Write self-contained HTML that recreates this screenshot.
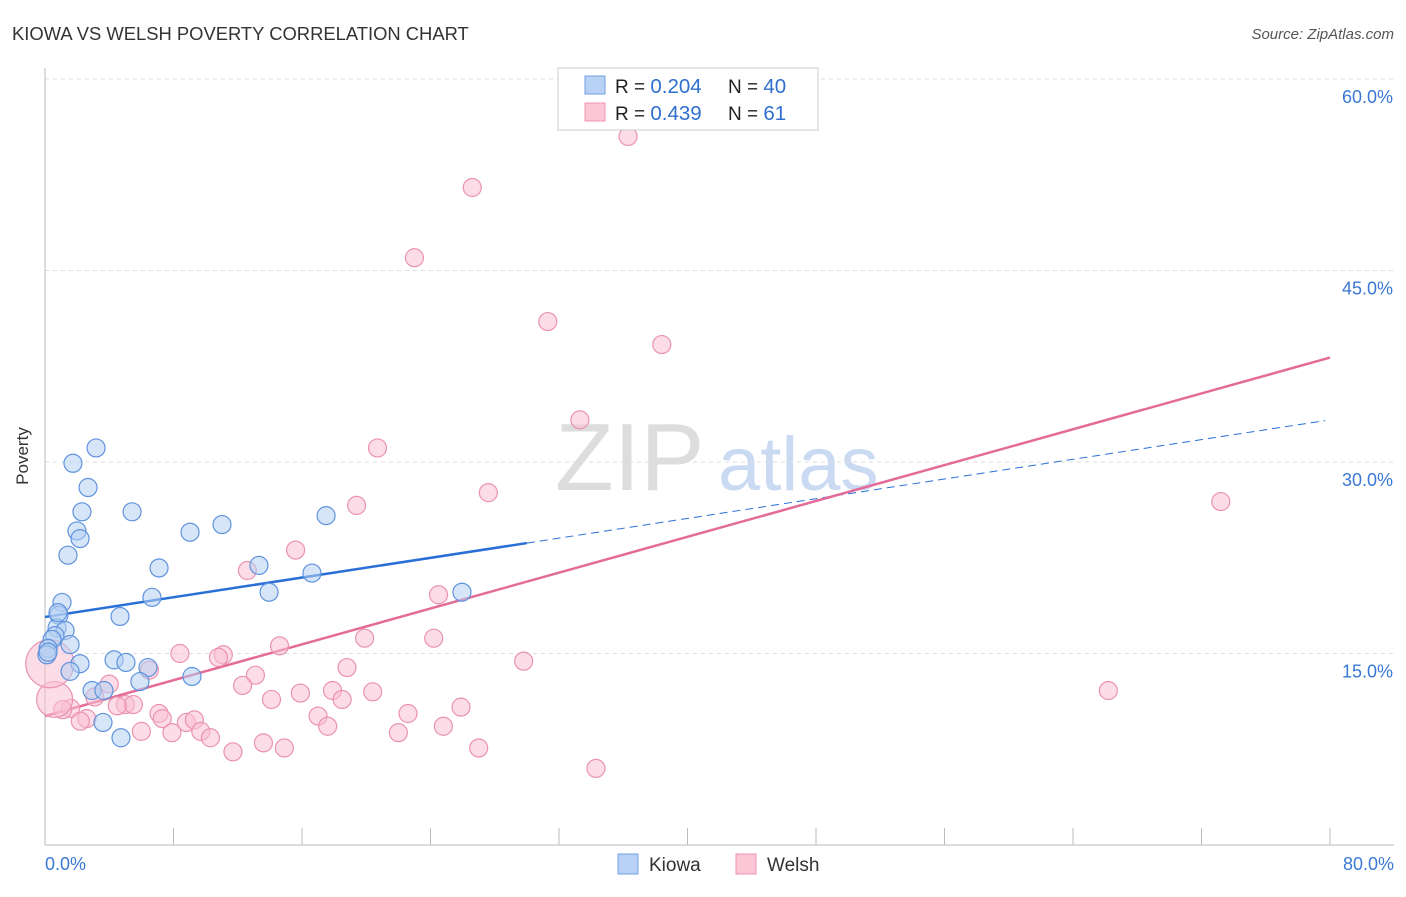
<!DOCTYPE html>
<html><head><meta charset="utf-8"><style>
body{margin:0;background:#fff;font-family:"Liberation Sans",sans-serif;}
svg text{font-family:"Liberation Sans",sans-serif;}
</style></head><body>
<svg id="chart" width="1406" height="892" xmlns="http://www.w3.org/2000/svg">
<text x="12" y="40" font-size="18.4" fill="#333">KIOWA VS WELSH POVERTY CORRELATION CHART</text>
<text x="1394" y="39" font-size="15" fill="#555" font-style="italic" text-anchor="end">Source: ZipAtlas.com</text>
<g><text x="555" y="490" font-size="96" fill="#ddd" font-family="Liberation Serif,serif">ZIP</text><text x="718" y="490" font-size="76" fill="#c9daf2">atlas</text></g>
<g id="grid"></g>
<g id="axes"></g>
<g id="trends"></g>
<g id="points"></g>
<text x="28" y="456" font-size="17" fill="#333" text-anchor="middle" transform="rotate(-90 28 456)">Poverty</text>
<g>
<rect x="558" y="68" width="260" height="62" fill="#fff" stroke="#ccc"/>
<rect x="585" y="76" width="20" height="18" fill="#b8d2f5" stroke="#6f9fe0"/>
<rect x="585" y="103" width="20" height="18" fill="#fcc6d6" stroke="#ec94b0"/>
<text x="615" y="93" font-size="19" fill="#222">R = <tspan fill="#2f6fd0" font-size="20.5">0.204</tspan></text>
<text x="728" y="93" font-size="19" fill="#222">N = <tspan fill="#2f6fd0" font-size="20.5">40</tspan></text>
<text x="615" y="120" font-size="19" fill="#222">R = <tspan fill="#2f6fd0" font-size="20.5">0.439</tspan></text>
<text x="728" y="120" font-size="19" fill="#222">N = <tspan fill="#2f6fd0" font-size="20.5"> 61</tspan></text>
</g>
<g>
<rect x="618" y="854" width="20" height="20" fill="#b8d2f5" stroke="#6f9fe0"/>
<text x="649" y="871" font-size="19" fill="#333">Kiowa</text>
<rect x="736" y="854" width="20" height="20" fill="#fcc6d6" stroke="#ec94b0"/>
<text x="767" y="871" font-size="19" fill="#333">Welsh</text>
</g>
</svg>
<script>
const yTicks=[15,30,45,60];
const yTickLabels=["15.0%","30.0%","45.0%","60.0%"];
const xTickLabels=["0.0%","80.0%"];
const kiowaX=[3.18,1.74,2.68,2.30,5.42,1.99,2.18,9.03,11.02,1.43,13.32,16.62,7.10,17.50,6.66,13.95,25.96,1.06,0.87,4.67,0.75,1.25,0.62,0.44,1.56,0.19,0.12,2.18,4.30,5.04,6.41,1.56,9.15,5.91,2.93,3.67,3.61,4.73,0.81,0.19];
const kiowaY=[31.1,29.9,28.0,26.1,26.1,24.6,24.0,24.5,25.1,22.7,21.9,21.3,21.7,25.8,19.4,19.8,19.8,19.0,18.0,17.9,17.0,16.8,16.4,16.1,15.7,15.4,14.9,14.2,14.5,14.3,13.9,13.6,13.2,12.8,12.1,12.1,9.6,8.4,18.2,15.1];
const welshX=[36.3,26.6,23.0,31.3,38.4,33.3,20.7,27.6,19.4,73.2,15.6,12.6,24.5,24.2,19.9,14.6,11.1,10.8,8.4,18.8,13.1,29.8,66.2,6.5,12.3,14.1,15.9,17.9,20.4,18.5,4.0,3.1,7.1,7.3,8.8,9.3,5.0,5.5,4.5,1.6,1.1,2.6,2.2,6.0,7.9,9.7,10.3,11.7,13.6,14.9,17.0,17.6,22.6,22.0,24.8,25.9,27.0,34.3,0.6,0.3];
const welshY=[55.5,51.5,46.0,41.0,39.2,33.3,31.1,27.6,26.6,26.9,23.1,21.5,19.6,16.2,16.2,15.6,14.9,14.7,15.0,13.9,13.3,14.4,12.1,13.7,12.5,11.4,11.9,12.1,12.0,11.4,12.6,11.6,10.3,9.9,9.6,9.8,11.0,11.0,10.9,10.7,10.6,9.9,9.7,8.9,8.8,8.9,8.4,7.3,8.0,7.6,10.1,9.3,10.3,8.8,9.3,10.8,7.6,6.0,11.4,14.2];
const welshBig=[0,0,0,0,0,0,0,0,0,0,0,0,0,0,0,0,0,0,0,0,0,0,0,0,0,0,0,0,0,0,0,0,0,0,0,0,0,0,0,0,0,0,0,0,0,0,0,0,0,0,0,0,0,0,0,0,0,0,1,1];
const kiowaTrend=[17.86,0.193];
const welshTrend=[10.1,0.351];
const X0=45,X1=1330,Y0=845,Y60=79;
const sx=v=>X0+(v/80)*(X1-X0);
const sy=v=>Y0-(v/60)*(Y0-Y60);
const NS="http://www.w3.org/2000/svg";
function mk(tag,attrs,parent){const e=document.createElementNS(NS,tag);for(const k in attrs)e.setAttribute(k,attrs[k]);document.getElementById(parent).appendChild(e);return e;}
yTicks.forEach((t,i)=>{
 const g=mk('line',{x1:45,x2:1394,y1:sy(t),y2:sy(t),stroke:'#ddd','stroke-dasharray':'4,4'},'grid');
 
 
 const tx=mk('text',{x:1393,y:sy(t)+24,'font-size':18,fill:'#3a78d4','text-anchor':'end'},'grid');
 tx.textContent=yTickLabels[i];
 
 
});
const ya=mk('line',{x1:45,x2:45,y1:68,y2:845,stroke:'#bbb'},'axes');


const xa=mk('line',{x1:45,x2:1394,y1:845,y2:845,stroke:'#bbb'},'axes');


for(let i=0;i<=10;i++){
 const t=mk('line',{x1:sx(i*8),x2:sx(i*8),y1:828,y2:845,stroke:'#bbb'},'axes');
 
 
}
[[0,'start',45],[80,'end',1394]].forEach((d,i)=>{
 const t=mk('text',{x:d[2],y:870,'font-size':18,fill:'#3a78d4','text-anchor':d[1]},'axes');
 t.textContent=xTickLabels[i];
 
 
});
function pts(xs,ys,fill,stroke,name,big){
 xs.forEach((x,i)=>{
  const r=big&&big[i]?(i===welshX.length-1?24:18):9;
  const c=mk('circle',{cx:sx(x),cy:sy(ys[i]),r:r,fill:fill,'fill-opacity':0.55,stroke:stroke,'stroke-width':1.2},'points');
  
  
 });
}
pts(welshX,welshY,'#fac0d2','#ea93ae','welsh-point',welshBig);
pts(kiowaX,kiowaY,'#b5cff3','#5f93dc','kiowa-point');
const kl=mk('line',{x1:sx(0),y1:sy(kiowaTrend[0]),x2:sx(30),y2:sy(kiowaTrend[0]+30*kiowaTrend[1]),stroke:'#2a6fd6','stroke-width':2.5},'trends');


const kd=mk('line',{x1:sx(30),y1:sy(kiowaTrend[0]+30*kiowaTrend[1]),x2:sx(79.7),y2:sy(kiowaTrend[0]+79.7*kiowaTrend[1]),stroke:'#2a6fd6','stroke-width':1,'stroke-dasharray':'8,5'},'trends');


const wl=mk('line',{x1:sx(0),y1:sy(welshTrend[0]),x2:sx(80),y2:sy(welshTrend[0]+80*welshTrend[1]),stroke:'#e46b97','stroke-width':2.5},'trends');


</script>
</body></html>
